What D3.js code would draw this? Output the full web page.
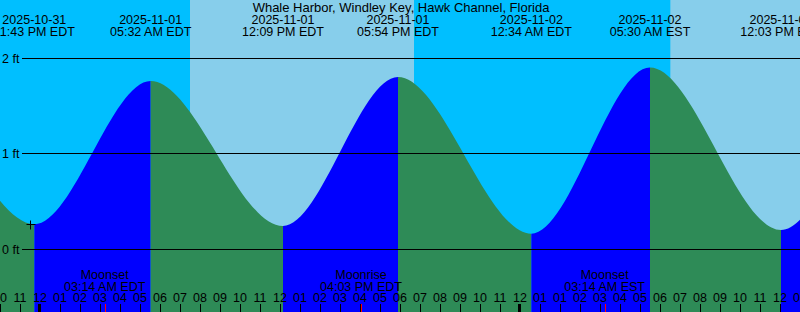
<!DOCTYPE html>
<html>
<head>
<meta charset="utf-8">
<script src="https://cdn.jsdelivr.net/npm/d3@7"></script>
<style>
  html, body { margin: 0; padding: 0; background: #fff; }
  svg { display: block; font-family: "Liberation Sans", Arial, sans-serif; }
  text { fill: #000; font-size: 12.5px; }
</style>
</head>
<body>
<div id="chart"></div>
<script>
// Tide data (the first two and last two are outside the window)
var tideTimes = ["2025-10-31T11:05:00-04:00", "2025-10-31T17:25:00-04:00", "2025-10-31T23:43:00-04:00",
                 "2025-11-01T05:32:00-04:00", "2025-11-01T12:09:00-04:00", "2025-11-01T17:54:00-04:00",
                 "2025-11-02T00:34:00-04:00", "2025-11-02T05:30:00-05:00", "2025-11-02T12:03:00-05:00",
                 "2025-11-02T18:15:00-05:00", "2025-11-03T00:40:00-05:00"];
var tideHeights = [0.30, 1.60, 0.26, 1.76, 0.24, 1.80, 0.16, 1.90, 0.20, 1.90, 0.15];
var tideDateLabels = ["2025-10-31", "2025-10-31", "2025-10-31", "2025-11-01", "2025-11-01", "2025-11-01",
                      "2025-11-02", "2025-11-02", "2025-11-02", "2025-11-02", "2025-11-03"];
var tideTimeLabels = ["11:05 AM EDT", "05:25 PM EDT", "11:43 PM EDT", "05:32 AM EDT", "12:09 PM EDT",
                      "05:54 PM EDT", "12:34 AM EDT", "05:30 AM EST", "12:03 PM EST", "06:15 PM EST",
                      "12:40 AM EST"];

// Daylight intervals
var sunrises = ["2025-11-01T07:30:00-04:00", "2025-11-02T06:31:00-05:00"];
var sunsets = ["2025-11-01T18:42:00-04:00", "2025-11-02T17:45:00-05:00"];

// Moon events
var moonTimes = ["2025-11-01T03:14:00-04:00", "2025-11-01T16:03:00-04:00", "2025-11-02T03:14:00-05:00"];
var moonNames = ["Moonset", "Moonrise", "Moonset"];
var moonLabels = ["03:14 AM EDT", "04:03 PM EDT", "03:14 AM EST"];

// Hour tick labels, 10 PM Oct 31 through 1 PM Nov 2 (DST ends: 01 twice)
var hourLabels = ["10", "11", "12", "01", "02", "03", "04", "05", "06", "07", "08", "09", "10", "11",
                  "12", "01", "02", "03", "04", "05", "06", "07", "08", "09", "10", "11",
                  "12", "01", "01", "02", "03", "04", "05", "06", "07", "08", "09", "10", "11", "12", "01"];
var midnights = ["2025-11-01T00:00:00-04:00", "2025-11-02T00:00:00-04:00"];

var heightTicks = [0, 1, 2];
var nowMark = {time: "2025-10-31T23:30:00-04:00", height: 0.26};
var title = "Whale Harbor, Windley Key, Hawk Channel, Florida";

var width = 800, height = 312;

var chart = d3.select("#chart").append("svg")
    .attr("width", width)
    .attr("height", height);

var x = d3.scaleUtc()
    .domain([new Date("2025-10-31T22:00:00-04:00"), new Date("2025-11-02T13:00:00-05:00")])
    .range([0, width]);

var y = d3.scaleLinear()
    .domain([0, 2])
    .range([249, 58]);

var tide = tideTimes.map(function(t, i) {
  return {date: new Date(t), h: tideHeights[i], dateLabel: tideDateLabels[i], timeLabel: tideTimeLabels[i]};
});

// Sky: night base, day bands
chart.append("rect")
    .attr("width", width)
    .attr("height", height)
    .attr("fill", "#00bfff");

chart.append("g").selectAll("rect")
    .data(sunrises)
  .enter().append("rect")
    .attr("x", function(d) { return x(new Date(d)); })
    .attr("width", function(d, i) { return x(new Date(sunsets[i])) - x(new Date(d)); })
    .attr("height", height)
    .attr("fill", "#87ceeb");

// Water: one smooth area, clipped into rising / falling pieces
var area = d3.area()
    .curve(d3.curveMonotoneX)
    .x(function(d) { return x(d.date); })
    .y0(height)
    .y1(function(d) { return y(d.h); });

var defs = chart.append("defs");
var pieces = d3.pairs(tide);

defs.selectAll("clipPath")
    .data(pieces)
  .enter().append("clipPath")
    .attr("id", function(d, i) { return "clip" + i; })
  .append("rect")
    .attr("x", function(d) { return x(d[0].date); })
    .attr("width", function(d) { return x(d[1].date) - x(d[0].date); })
    .attr("height", height);

chart.append("g").selectAll("path")
    .data(pieces)
  .enter().append("path")
    .datum(function(d, i) { return {rising: d[1].h > d[0].h, i: i}; })
    .attr("clip-path", function(d) { return "url(#clip" + d.i + ")"; })
    .attr("fill", function(d) { return d.rising ? "#0000ff" : "#2e8b57"; })
    .attr("d", area(tide));

// Height grid lines and labels
var grid = chart.append("g").attr("class", "grid");
grid.selectAll("line")
    .data(heightTicks)
  .enter().append("line")
    .attr("x1", 22)
    .attr("x2", width)
    .attr("y1", function(d) { return Math.floor(y(d)) + 0.5; })
    .attr("y2", function(d) { return Math.floor(y(d)) + 0.5; })
    .attr("stroke", "#000")
    .attr("stroke-width", 1);

grid.selectAll("text")
    .data(heightTicks)
  .enter().append("text")
    .attr("x", 2)
    .attr("y", function(d) { return Math.floor(y(d)) + 5; })
    .text(function(d) { return d + " ft"; });

// Title and tide event labels
chart.append("text")
    .attr("x", width / 2 + 1)
    .attr("y", 12)
    .attr("text-anchor", "middle")
    .style("font-size", "13px")
    .text(title);

var evLabels = chart.append("g").selectAll("g")
    .data(tide)
  .enter().append("g")
    .attr("transform", function(d) { return "translate(" + x(d.date) + ",0)"; })
    .attr("text-anchor", "middle");
evLabels.append("text").attr("y", 24).text(function(d) { return d.dateLabel; });
evLabels.append("text").attr("y", 36).text(function(d) { return d.timeLabel; });

// Moon labels
var moon = chart.append("g").selectAll("g")
    .data(moonTimes)
  .enter().append("g")
    .attr("transform", function(d) { return "translate(" + x(new Date(d)) + ",0)"; })
    .attr("text-anchor", "middle");
moon.append("text").attr("y", 278.5).text(function(d, i) { return moonNames[i]; });
moon.append("text").attr("y", 290.5).text(function(d, i) { return moonLabels[i]; });

// Hour axis
var hours = x.ticks(d3.utcHour.every(1));
var hourAxis = chart.append("g").attr("class", "hours");

hourAxis.selectAll("line")
    .data(hours)
  .enter().append("line")
    .attr("x1", function(d) { return x(d) + 0.5; })
    .attr("x2", function(d) { return x(d) + 0.5; })
    .attr("y1", 304)
    .attr("y2", height)
    .attr("stroke", "#000");

hourAxis.selectAll("text")
    .data(hours)
  .enter().append("text")
    .attr("x", function(d) { return x(d); })
    .attr("y", 301.5)
    .attr("text-anchor", "middle")
    .text(function(d, i) { return hourLabels[i]; });

hourAxis.selectAll("line.midnight")
    .data(midnights)
  .enter().append("line")
    .attr("class", "midnight")
    .attr("x1", function(d) { return x(new Date(d)) - 0.5; })
    .attr("x2", function(d) { return x(new Date(d)) - 0.5; })
    .attr("y1", 304)
    .attr("y2", height)
    .attr("stroke", "#000")
    .attr("stroke-width", 3);

hourAxis.selectAll("line.moon")
    .data(moonTimes)
  .enter().append("line")
    .attr("class", "moon")
    .attr("x1", function(d) { return Math.round(x(new Date(d))) + 0.5; })
    .attr("x2", function(d) { return Math.round(x(new Date(d))) + 0.5; })
    .attr("y1", 304)
    .attr("y2", height)
    .attr("stroke", "#ff0000");

// "+" mark on the curve
var mx = Math.round(x(new Date(nowMark.time))) + 0.5,
    my = Math.round(y(nowMark.height)) + 0.5;
chart.append("path")
    .attr("d", "M" + (mx - 4) + "," + my + "H" + (mx + 5) + "M" + mx + "," + (my - 4) + "V" + (my + 5))
    .attr("stroke", "#000")
    .attr("fill", "none");
</script>
</body>
</html>
